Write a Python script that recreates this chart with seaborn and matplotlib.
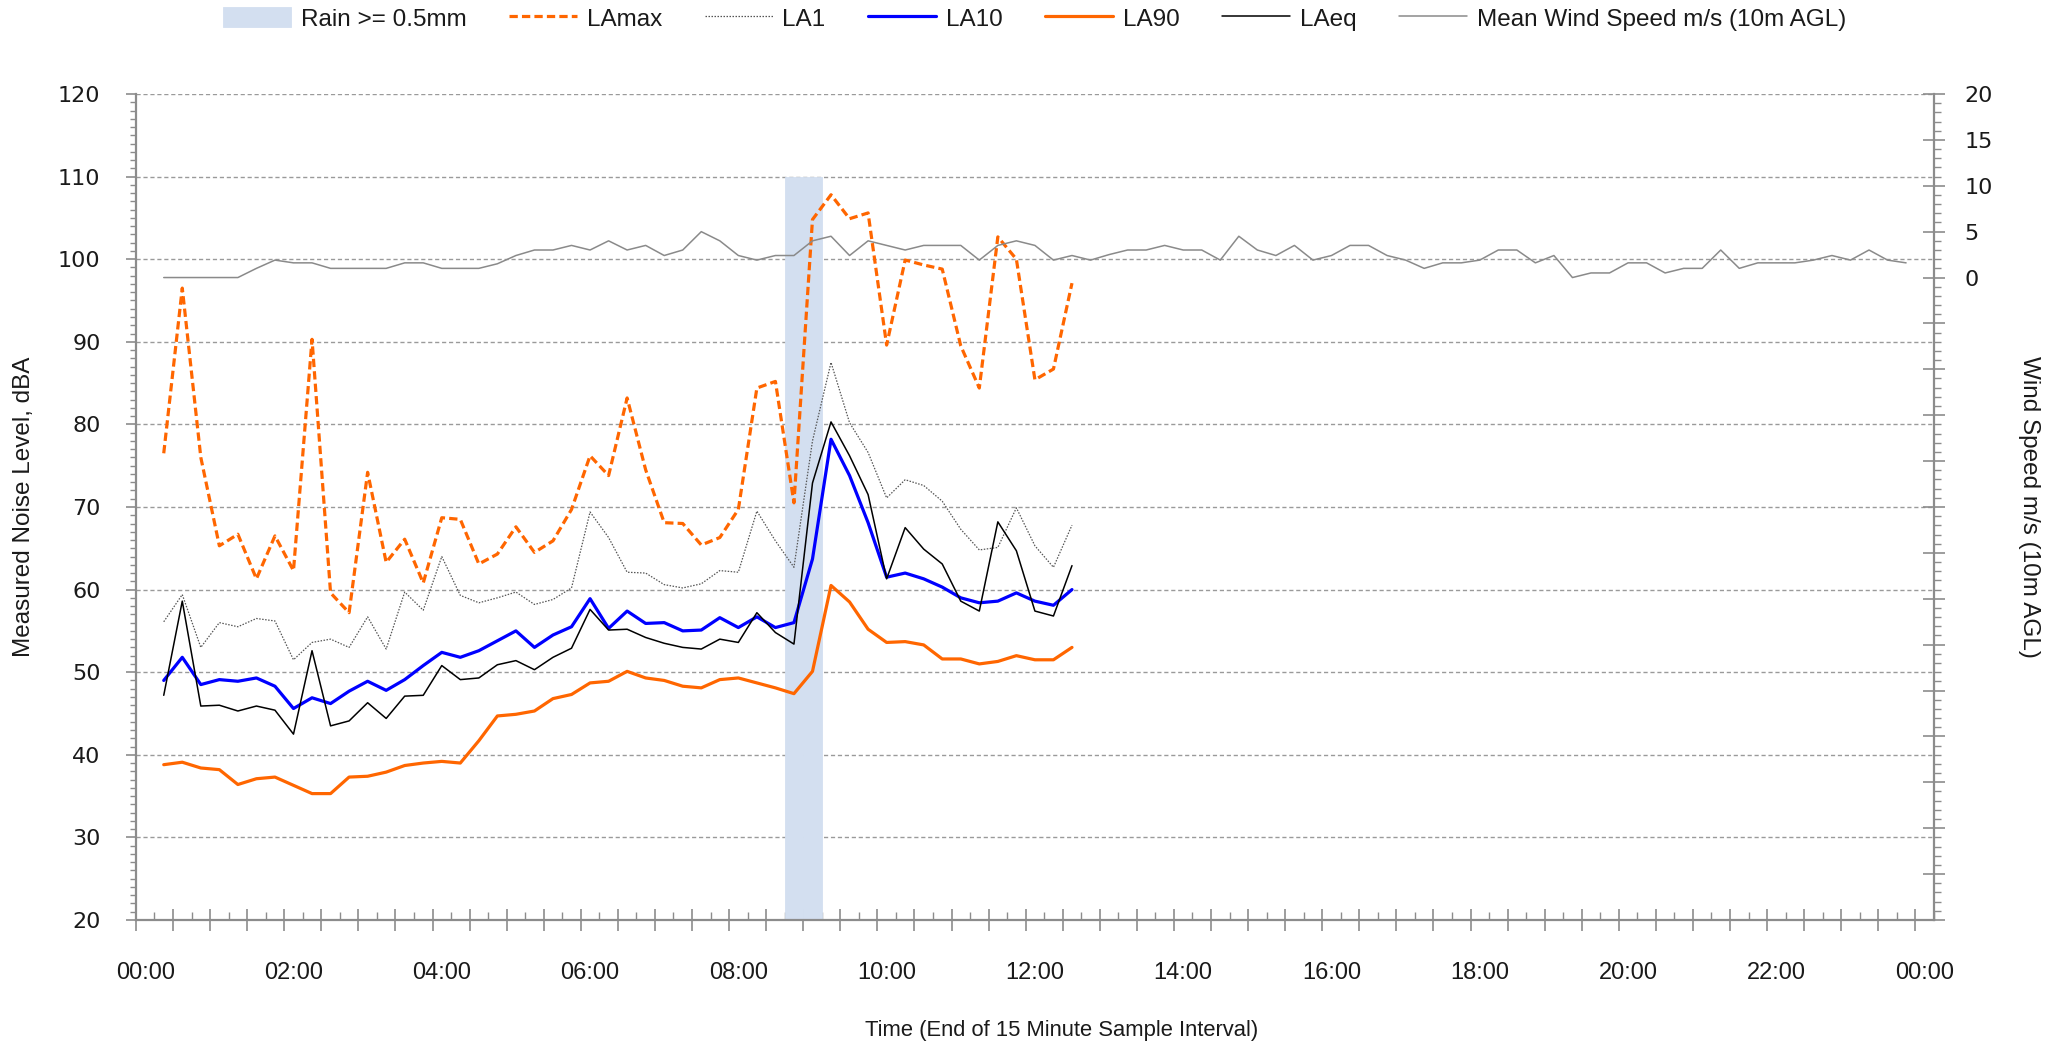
import numpy as np
import matplotlib
import matplotlib.pyplot as plt
from matplotlib.ticker import FixedLocator, MultipleLocator, FuncFormatter, NullFormatter
import seaborn as sns

matplotlib.use("Agg")
sns.set_theme(style="white")
plt.rcParams["font.family"] = ["Liberation Sans", "DejaVu Sans"]

# 15 minute samples, end of interval, starting 00:15
lamax = [76.5, 96.5, 76.0, 65.3, 66.7, 61.3, 66.5, 62.3, 90.3, 59.6,
         57.2, 74.2, 63.3, 66.1, 60.8, 68.7, 68.5, 63.1, 64.3, 67.6,
         64.5, 65.9, 69.7, 76.2, 73.8, 83.2, 74.5, 68.1, 68.0, 65.4,
         66.3, 69.7, 84.4, 85.2, 70.5, 104.8, 107.8, 104.9, 105.6, 89.6,
         99.9, 99.3, 98.8, 89.5, 84.4, 102.7, 100.0, 85.4, 86.7, 97.1]
la1 = [56.1, 59.4, 53.0, 56.0, 55.5, 56.5, 56.2, 51.5, 53.6, 54.0,
       53.0, 56.7, 52.8, 59.7, 57.5, 64.0, 59.3, 58.4, 59.0, 59.7,
       58.2, 58.8, 60.2, 69.4, 66.3, 62.1, 62.0, 60.6, 60.2, 60.7,
       62.3, 62.1, 69.5, 65.9, 62.7, 78.0, 87.5, 80.2, 76.6, 71.1,
       73.3, 72.6, 70.7, 67.3, 64.8, 65.1, 69.9, 65.3, 62.7, 67.8]
la10 = [49.0, 51.8, 48.5, 49.1, 48.9, 49.3, 48.3, 45.6, 46.9, 46.2,
        47.7, 48.9, 47.8, 49.1, 50.8, 52.4, 51.8, 52.6, 53.8, 55.0,
        53.0, 54.5, 55.5, 58.9, 55.3, 57.4, 55.9, 56.0, 55.0, 55.1,
        56.6, 55.4, 56.7, 55.4, 56.0, 63.7, 78.2, 73.8, 68.1, 61.5,
        62.0, 61.3, 60.3, 59.0, 58.4, 58.6, 59.6, 58.6, 58.1, 60.0]
la90 = [38.8, 39.1, 38.4, 38.2, 36.4, 37.1, 37.3, 36.3, 35.3, 35.3,
        37.3, 37.4, 37.9, 38.7, 39.0, 39.2, 39.0, 41.7, 44.7, 44.9,
        45.3, 46.8, 47.3, 48.7, 48.9, 50.1, 49.3, 49.0, 48.3, 48.1,
        49.1, 49.3, 48.7, 48.1, 47.4, 50.1, 60.5, 58.5, 55.2, 53.6,
        53.7, 53.3, 51.6, 51.6, 51.0, 51.3, 52.0, 51.5, 51.5, 53.0]
laeq = [47.2, 58.6, 45.9, 46.0, 45.3, 45.9, 45.4, 42.5, 52.6, 43.5,
        44.1, 46.3, 44.4, 47.1, 47.2, 50.8, 49.1, 49.3, 50.9, 51.4,
        50.3, 51.8, 52.9, 57.6, 55.1, 55.2, 54.2, 53.5, 53.0, 52.8,
        54.0, 53.6, 57.2, 54.8, 53.4, 72.9, 80.3, 76.2, 71.5, 61.3,
        67.5, 64.9, 63.1, 58.6, 57.4, 68.2, 64.7, 57.4, 56.8, 62.9]
wind = [0.0, 0.0, 0.0, 0.0, 0.0, 1.0, 1.9, 1.6, 1.6, 1.0,
        1.0, 1.0, 1.0, 1.6, 1.6, 1.0, 1.0, 1.0, 1.5, 2.4,
        3.0, 3.0, 3.5, 3.0, 4.0, 3.0, 3.5, 2.4, 3.0, 5.0,
        4.0, 2.4, 1.9, 2.4, 2.4, 4.0, 4.5, 2.4, 4.0, 3.5,
        3.0, 3.5, 3.5, 3.5, 1.9, 3.5, 4.0, 3.5, 1.9, 2.4,
        1.9, 2.5, 3.0, 3.0, 3.5, 3.0, 3.0, 1.9, 4.5, 3.0,
        2.4, 3.5, 1.9, 2.4, 3.5, 3.5, 2.4, 1.9, 1.0, 1.6,
        1.6, 1.9, 3.0, 3.0, 1.6, 2.4, 0.0, 0.5, 0.5, 1.6,
        1.6, 0.5, 1.0, 1.0, 3.0, 1.0, 1.6, 1.6, 1.6, 1.9,
        2.4, 1.9, 3.0, 1.9, 1.6]
rain_hours = [8.75, 9.0]
rain_top = [110, 110]
hour_labels = ["00:00", "02:00", "04:00", "06:00", "08:00", "10:00", "12:00",
               "14:00", "16:00", "18:00", "20:00", "22:00", "00:00"]

noise_hours = 0.25 * np.arange(1, len(laeq) + 1)
wind_hours = 0.25 * np.arange(1, len(wind) + 1)

GREY = "#8c8c8c"
ORANGE = "#ff6600"
TXT = "#1a1a1a"

fig = plt.figure(figsize=(20.69, 10.49), dpi=100)
ax = fig.add_axes([0.0657, 0.123, 0.869, 0.7874])
ax2 = ax.twinx()

ax.bar(rain_hours, np.array(rain_top) - 20, bottom=20, width=0.25,
       color="#d3dff0", edgecolor="#d3dff0", linewidth=0.6, zorder=1,
       label="Rain >= 0.5mm")

series = [
    ("LAmax", lamax, dict(color=ORANGE, linewidth=2.3, dashes=(2.6, 1.3))),
    ("LA1", la1, dict(color="#555555", linewidth=0.9, dashes=(1.2, 1.2))),
    ("LA10", la10, dict(color="#0000ff", linewidth=2.3)),
    ("LA90", la90, dict(color=ORANGE, linewidth=2.3)),
    ("LAeq", laeq, dict(color="black", linewidth=1.1)),
]
for name, values, style in series:
    sns.lineplot(x=noise_hours, y=values, ax=ax, label=name, zorder=3, **style)

sns.lineplot(x=wind_hours, y=wind, ax=ax2, color="#8a8a8a", linewidth=1.1,
             label="Mean Wind Speed m/s (10m AGL)")

# x axis: category style, ticks between 15 minute samples
ax.set_xlim(-0.125, 24.125)
ax.xaxis.set_major_locator(FixedLocator(np.arange(-0.125, 24.2, 0.5)))
ax.xaxis.set_minor_locator(FixedLocator(np.arange(-0.125, 24.2, 0.25)))
ax.xaxis.set_major_formatter(NullFormatter())
ax.tick_params(axis="x", which="major", direction="inout", length=16, width=1.2, color=GREY, bottom=True)
ax.tick_params(axis="x", which="minor", direction="in", length=6, width=1.0, color=GREY, bottom=True)

secax = ax.secondary_xaxis("bottom")
secax.set_xticks(np.arange(0, 25, 2), labels=hour_labels)
secax.tick_params(length=0, pad=30, labelsize=17, labelcolor=TXT)
secax.spines["bottom"].set_visible(False)

# left axis
ax.set_ylim(20, 120)
ax.yaxis.set_major_locator(MultipleLocator(10))
ax.yaxis.set_minor_locator(MultipleLocator(1))
ax.tick_params(axis="y", which="major", direction="out", length=7.5, width=1.2, color=GREY,
               left=True, pad=18, labelsize=16, labelcolor=TXT)
ax.tick_params(axis="y", which="minor", direction="out", length=4.5, width=1.0, color=GREY, left=True)
for t in ax.get_yticklabels():
    t.set_fontfamily("DejaVu Sans")
ax.yaxis.grid(True, which="major", color="#9a9a9a", linestyle=(0, (3, 2)), linewidth=1.0)
ax.xaxis.grid(False)
ax.set_axisbelow(True)

# right axis
ax2.set_ylim(-70, 20)
ax2.yaxis.set_major_locator(MultipleLocator(5))
ax2.yaxis.set_minor_locator(MultipleLocator(1))
ax2.yaxis.set_major_formatter(FuncFormatter(lambda v, p: "" if v < 0 else f"{v:.0f}"))
ax2.tick_params(axis="y", which="major", direction="inout", length=16, width=1.2, color=GREY,
                right=True, pad=14, labelsize=16, labelcolor=TXT)
ax2.tick_params(axis="y", which="minor", direction="out", length=5, width=1.0, color=GREY, right=True)
for t in ax2.get_yticklabels():
    t.set_fontfamily("DejaVu Sans")
ax2.grid(False)

for a in (ax, ax2):
    for side in ("top", "left", "right", "bottom"):
        a.spines[side].set_visible(False)
ax.spines["left"].set_visible(True)
ax.spines["bottom"].set_visible(True)
ax2.spines["right"].set_visible(True)
for sp in (ax.spines["left"], ax.spines["bottom"], ax2.spines["right"]):
    sp.set_color(GREY)
    sp.set_linewidth(1.6)

ax.set_xlabel("Time (End of 15 Minute Sample Interval)", fontsize=15.8, color=TXT)
ax.xaxis.label.set_va("center")
ax.xaxis.set_label_coords(0.515, -0.134)
ax.set_ylabel("Measured Noise Level, dBA", fontsize=17.5, color=TXT)
ax.yaxis.label.set_va("center")
ax.yaxis.set_label_coords(-0.0623, 0.5)
ax2.set_ylabel("Wind Speed m/s (10m AGL)", fontsize=17.5, color=TXT, rotation=270)
ax2.yaxis.label.set_va("center")
ax2.yaxis.set_label_coords(1.0528, 0.5)

h1, l1 = ax.get_legend_handles_labels()
h2, l2 = ax2.get_legend_handles_labels()
ax.get_legend().remove()
ax2.get_legend().remove()
handles = dict(zip(l1 + l2, h1 + h2))
order = ["Rain >= 0.5mm", "LAmax", "LA1", "LA10", "LA90", "LAeq", "Mean Wind Speed m/s (10m AGL)"]
fig.legend([handles[k] for k in order], order, loc="center", bbox_to_anchor=(0.5, 0.982),
           ncol=7, frameon=False, fontsize=17.5, handlelength=2.8, handleheight=0.9,
           handletextpad=0.4, columnspacing=1.75, labelcolor=TXT)

fig.savefig("out.png", dpi=100)
plt.close(fig)
